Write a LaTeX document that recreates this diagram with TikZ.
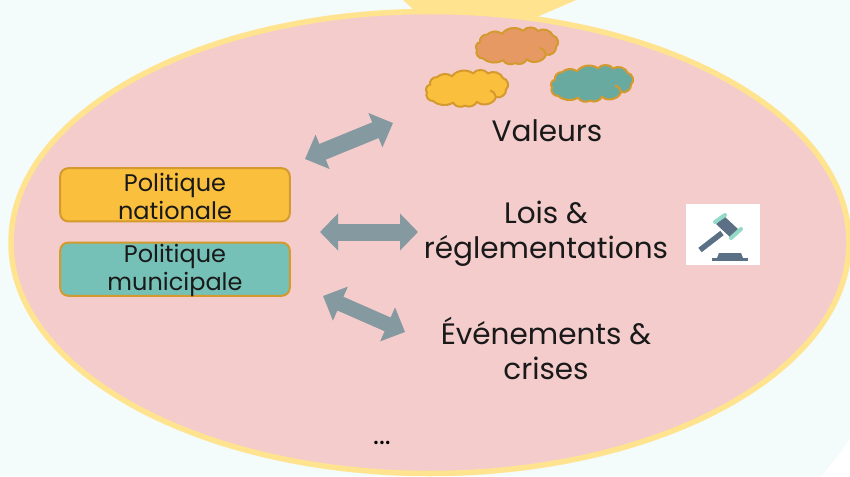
\documentclass[tikz,border=0pt]{standalone}
\usepackage{fontspec}
\setmainfont{Poppins}
\usetikzlibrary{arrows.meta}
\definecolor{bgc}{HTML}{F4FBFB}
\definecolor{rimc}{HTML}{FFE38E}
\definecolor{pinkc}{HTML}{F4CCCC}
\definecolor{amberc}{HTML}{FABF3C}
\definecolor{tealc}{HTML}{75C1B7}
\definecolor{edgec}{HTML}{D49A2E}
\definecolor{orangec}{HTML}{E69963}
\definecolor{cloudteal}{HTML}{69AAA0}
\definecolor{arrowc}{HTML}{8599A0}
\definecolor{gavelc}{HTML}{5C7085}
\definecolor{mintc}{HTML}{93DAC8}
\tikzset{
  boxn/.style={draw=edgec,line width=2pt,rounded corners=8pt,minimum width=229.6pt,minimum height=53.2pt,inner sep=0pt,outer sep=0pt,anchor=north west},
  boxtext/.style={font=\fontsize{24}{28}\selectfont,align=center,inner sep=0pt,text=black!90},
  bigtext/.style={font=\fontsize{29.5}{35}\selectfont,align=center,inner sep=0pt,text=black!90},
  dblarrow/.style={draw=arrowc,line width=#1},
  dblarrow/.default=17pt,
  pics/puff/.style={code={
    \draw[draw=edgec,line width=2pt,fill=#1,yscale=.95]
      (-35,-5) to[bend left=55] (-28,-13) to[bend left=40] (-13,-14) to[bend left=45] (8,-17)
      to[bend left=55] (23,-17) to[bend left=50] (38,-12) to[bend left=70] (41,0)
      to[bend left=60] (31,8) to[bend left=60] (12,13) to[bend left=45] (0,17)
      to[bend left=45] (-12,14) to[bend left=35] (-32,12) to[bend left=70] (-38,3)
      to[bend left=70] (-35,-5) -- cycle;
    \draw[draw=edgec,line width=2pt,yscale=.95] (25,1) to[bend left=30] (31,8);
  }}
}
\begin{document}
\begin{tikzpicture}[x=1pt,y=-1pt]
\useasboundingbox (0,0) rectangle (850,476);
\clip (0,0) rectangle (850,476);
\fill[bgc] (0,0) rectangle (850,476);
\fill[white] (822,476) .. controls (832,463) and (842,451) .. (850,438) -- (850,476) -- cycle;
\fill[rimc] (403,0) -- (425,20) -- (530,20) -- (576,0) -- cycle;
\draw[draw=rimc,line width=5.5pt,fill=pinkc] (430,242.5) ellipse [x radius=419,y radius=231];
\path (515,47) pic {puff=orangec};
\path (465,89.5) pic {puff=amberc};
\path (590,84.5) pic {puff=cloudteal};
\node[boxn,fill=amberc] (nat) at (60.2,168.2) {};
\node[boxn,fill=tealc] (mun) at (60.2,242.6) {};
\node[boxtext] (nattext) at (175,196) {Politique\\nationale};
\node[boxtext] (muntext) at (175,270.5) {Politique\\municipale};
\node[bigtext] (val) at (547,131) {Valeurs};
\node[bigtext] (lois) at (546,233.5) {Lois \&\\réglementations};
\node[bigtext] (evt) at (546,348) {Événements \&\\crises};
\node[font=\fontsize{28}{30}\selectfont,inner sep=0pt] (dots) at (382,443) {...};
\coordinate (a1s) at (305,159);
\coordinate (a1e) at (393,123);
\coordinate (a2s) at (320,232);
\coordinate (a2e) at (418,232);
\coordinate (a3s) at (323,296);
\coordinate (a3e) at (405,332);
\draw[dblarrow,{Triangle[length=19pt,width=36pt]}-{Triangle[length=19pt,width=36pt]}] (a1s) -- (a1e);
\draw[dblarrow,{Triangle[length=18pt,width=36pt]}-{Triangle[length=18pt,width=36pt]}] (a2s) -- (a2e);
\draw[dblarrow=15pt,{Triangle[length=19pt,width=36pt]}-{Triangle[length=19pt,width=36pt]}] (a3s) -- (a3e);
\node[fill=white,minimum width=74pt,minimum height=61pt,inner sep=0pt,outer sep=0pt,anchor=north west] (gavelbg) at (686,204) {};
\draw[gavelc,line width=5.5pt] (700,250) -- (722,233);
\fill[gavelc] (724,216) -- (739,230) -- (731,238) -- (716,224) -- cycle;
\draw[mintc,line width=4pt,line cap=round] (715,222) -- (725,215);
\draw[mintc,line width=4pt,line cap=round] (731,238) -- (741,229);
\fill[gavelc] (719,253) -- (741,253) -- (743,258) -- (717,258) -- cycle;
\fill[gavelc] (712,258) rectangle (748,261);
\end{tikzpicture}
\end{document}
